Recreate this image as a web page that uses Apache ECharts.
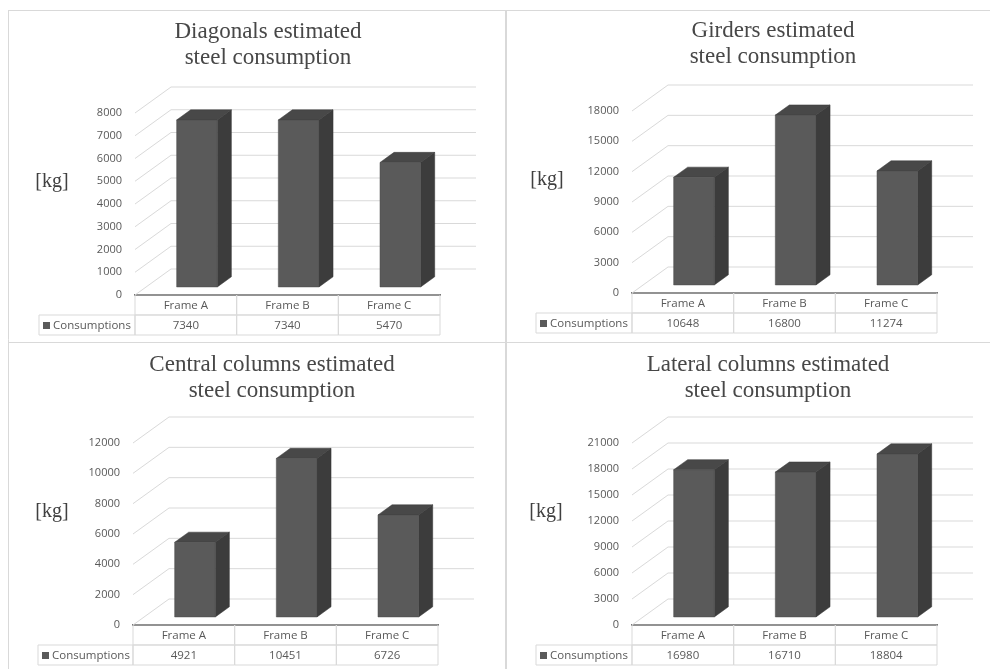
<!DOCTYPE html>
<html>
<head>
<meta charset="utf-8">
<script src="https://cdn.jsdelivr.net/npm/echarts@6/dist/echarts.min.js"></script>
<style>
  html, body { margin: 0; padding: 0; background: #ffffff; }
  #chart { width: 990px; height: 669px; }
</style>
</head>
<body>
<div id="chart"></div>
<script>
// Estimated steel consumption per frame type, four structural groups
const categories = ['Frame A', 'Frame B', 'Frame C'];
const seriesName = 'Consumptions';
const unitLabel = '[kg]';

const panelTitles = [
  'Diagonals estimated\nsteel consumption',
  'Girders estimated\nsteel consumption',
  'Central columns estimated\nsteel consumption',
  'Lateral columns estimated\nsteel consumption'
];

const diagonals = [7340, 7340, 5470];
const girders = [10648, 16800, 11274];
const centralColumns = [4921, 10451, 6726];
const lateralColumns = [16980, 16710, 18804];

const axisMax = [8000, 18000, 12000, 21000];
const axisStep = [1000, 3000, 2000, 3000];

const panelValues = [diagonals, girders, centralColumns, lateralColumns];

// Placement of each panel's front plane, title and unit label
const layout = [
  { left: 135, top: 113, width: 305, height: 182, titleX: 268, titleY: 45, unitX: 52, unitY: 182, legendLeft: 39 },
  { left: 632, top: 111, width: 305, height: 182, titleX: 773, titleY: 44, unitX: 547, unitY: 180, legendLeft: 536 },
  { left: 133, top: 443, width: 305, height: 182, titleX: 272, titleY: 378, unitX: 52, unitY: 512, legendLeft: 38 },
  { left: 632, top: 443, width: 305, height: 182, titleX: 768, titleY: 378, unitX: 546, unitY: 512, legendLeft: 536 }
];

// Pseudo-3D projection: depth vector of the plot box and bar depth range
const DEPTH_X = 36, DEPTH_Y = -26;
const BAR_NEAR = 0.31, BAR_FAR = 0.70, BAR_WIDTH = 0.4;
const ROW_H = 20;

const GRID_COLOR = '#d9d9d9';
const TEXT_COLOR = '#595959';
const FACE_FRONT = '#5a5a5a', FACE_SIDE = '#3c3c3c', FACE_TOP = '#484848';
const UI_FONT = 'Open Sans';
const SERIF_FONT = 'Liberation Serif';

function tickValues(max, step) {
  const out = [];
  for (let v = 0; v <= max + 1e-9; v += step) out.push(v);
  return out;
}

// Back wall gridlines and side wall diagonals
function renderWall(params, api) {
  const cs = params.coordSys;
  const y = api.coord([0, api.value(0)])[1];
  const x0 = cs.x, x1 = cs.x + cs.width;
  const style = { stroke: GRID_COLOR, lineWidth: 1, fill: null };
  return {
    type: 'group',
    children: [
      { type: 'line', shape: { x1: x0, y1: y, x2: x0 + DEPTH_X, y2: y + DEPTH_Y }, style: style },
      { type: 'line', shape: { x1: x0 + DEPTH_X, y1: y + DEPTH_Y, x2: x1 + DEPTH_X, y2: y + DEPTH_Y }, style: style }
    ]
  };
}

// Box-shaped bar with front, side and top faces
function renderBar(params, api) {
  const idx = api.value(0);
  const base = api.coord([idx, 0]);
  const top = api.coord([idx, api.value(1)]);
  const bw = api.size([1, 0])[0] * BAR_WIDTH;
  const nx = BAR_NEAR * DEPTH_X, ny = BAR_NEAR * DEPTH_Y;
  const dx = (BAR_FAR - BAR_NEAR) * DEPTH_X, dy = (BAR_FAR - BAR_NEAR) * DEPTH_Y;
  const xl = base[0] - bw / 2 + nx, xr = base[0] + bw / 2 + nx;
  const yb = base[1] + ny, yt = top[1] + ny;
  return {
    type: 'group',
    children: [
      { type: 'polygon', shape: { points: [[xr, yt], [xr + dx, yt + dy], [xr + dx, yb + dy], [xr, yb]] },
        style: { fill: FACE_SIDE, stroke: '#333333', lineWidth: 0.5 } },
      { type: 'polygon', shape: { points: [[xl, yt], [xl + dx, yt + dy], [xr + dx, yt + dy], [xr, yt]] },
        style: { fill: FACE_TOP, stroke: '#3a3a3a', lineWidth: 0.5 } },
      { type: 'rect', shape: { x: xl, y: yt, width: xr - xl, height: yb - yt },
        style: { fill: FACE_FRONT, stroke: '#4a4a4a', lineWidth: 0.5 } }
    ]
  };
}

// Data table under the axis: category row and value row
function makeTableRenderer(legendLeft) {
  return function (params, api) {
    const cs = params.coordSys;
    const idx = api.value(0);
    const band = cs.width / categories.length;
    const x = cs.x + idx * band;
    const y0 = cs.y + cs.height;
    const cell = { fill: null, stroke: GRID_COLOR, lineWidth: 1 };
    const font = { fontFamily: UI_FONT, fontSize: 11.5, fill: TEXT_COLOR, align: 'center', verticalAlign: 'middle' };
    const children = [
      { type: 'rect', shape: { x: x, y: y0, width: band, height: ROW_H }, style: cell },
      { type: 'rect', shape: { x: x, y: y0 + ROW_H, width: band, height: ROW_H }, style: cell },
      { type: 'text', x: x + band / 2, y: y0 + ROW_H / 2 + 1,
        style: Object.assign({ text: categories[idx] }, font) },
      { type: 'text', x: x + band / 2, y: y0 + ROW_H * 1.5 + 1,
        style: Object.assign({ text: String(api.value(1)) }, font) }
    ];
    if (idx === 0) {
      children.push(
        { type: 'rect', shape: { x: legendLeft, y: y0 + ROW_H, width: cs.x - legendLeft, height: ROW_H }, style: cell },
        { type: 'rect', shape: { x: legendLeft + 4, y: y0 + ROW_H * 1.5 - 3, width: 7, height: 7 },
          style: { fill: FACE_FRONT } },
        { type: 'text', x: legendLeft + 14, y: y0 + ROW_H * 1.5 + 1,
          style: { text: seriesName, fontFamily: UI_FONT, fontSize: 11.5, fill: TEXT_COLOR, align: 'left', verticalAlign: 'middle' } }
      );
    }
    return { type: 'group', children: children };
  };
}

const grids = [], xAxes = [], yAxes = [], series = [], graphics = [];

layout.forEach(function (p, i) {
  grids.push({ left: p.left, top: p.top, width: p.width, height: p.height, containLabel: false });
  xAxes.push({
    type: 'category', gridIndex: i, data: categories, boundaryGap: true,
    axisLine: { show: true, lineStyle: { color: '#4d4d4d', width: 2 } },
    axisTick: { show: false }, axisLabel: { show: false }, splitLine: { show: false }
  });
  yAxes.push({
    type: 'value', gridIndex: i, min: 0, max: axisMax[i], interval: axisStep[i],
    axisLine: { show: false }, axisTick: { show: false }, splitLine: { show: false },
    axisLabel: { color: TEXT_COLOR, fontFamily: UI_FONT, fontSize: 11, margin: 13,
      formatter: function (v) { return String(v); } }
  });
  series.push({
    type: 'custom', xAxisIndex: i, yAxisIndex: i, z: 1, silent: true, clip: false,
    data: tickValues(axisMax[i], axisStep[i]).map(function (v) { return [v]; }),
    encode: { y: 0 },
    renderItem: renderWall
  });
  series.push({
    type: 'custom', name: seriesName, xAxisIndex: i, yAxisIndex: i, z: 3, clip: false,
    data: panelValues[i].map(function (v, k) { return [k, v]; }),
    encode: { x: 0, y: 1 },
    renderItem: renderBar
  });
  series.push({
    type: 'custom', xAxisIndex: i, yAxisIndex: i, z: 2, silent: true, clip: false,
    data: panelValues[i].map(function (v, k) { return [k, v]; }),
    encode: { x: 0, y: 1 },
    renderItem: makeTableRenderer(p.legendLeft)
  });
  graphics.push({
    type: 'text', x: p.titleX, y: p.titleY,
    style: { text: panelTitles[i], fontFamily: SERIF_FONT, fontSize: 23, lineHeight: 26,
      fill: '#474747', align: 'center', verticalAlign: 'middle' }
  });
  graphics.push({
    type: 'text', x: p.unitX, y: p.unitY,
    style: { text: unitLabel, fontFamily: SERIF_FONT, fontSize: 20, fill: '#404040',
      align: 'center', verticalAlign: 'middle' }
  });
});

// Panel frame lines
const frame = { stroke: GRID_COLOR, lineWidth: 1 };
graphics.push(
  { type: 'line', shape: { x1: 8, y1: 10.5, x2: 990, y2: 10.5 }, style: frame },
  { type: 'line', shape: { x1: 8.5, y1: 10, x2: 8.5, y2: 669 }, style: frame },
  { type: 'line', shape: { x1: 506, y1: 10, x2: 506, y2: 669 }, style: { stroke: GRID_COLOR, lineWidth: 2 } },
  { type: 'line', shape: { x1: 8, y1: 342.5, x2: 990, y2: 342.5 }, style: frame }
);

const chart = echarts.init(document.getElementById('chart'), null, { renderer: 'canvas' });
chart.setOption({
  backgroundColor: '#ffffff',
  animation: false,
  grid: grids,
  xAxis: xAxes,
  yAxis: yAxes,
  series: series,
  graphic: graphics
});
</script>
</body>
</html>
